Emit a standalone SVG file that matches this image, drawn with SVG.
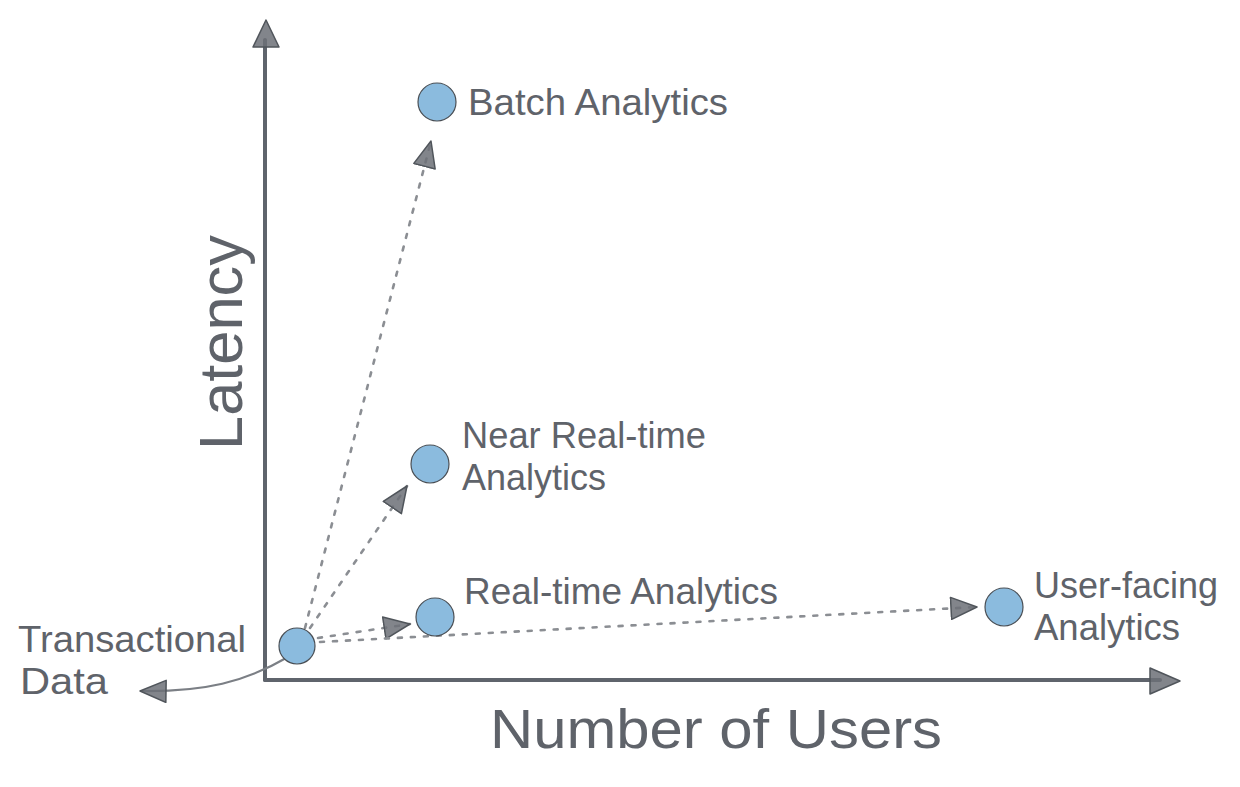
<svg xmlns="http://www.w3.org/2000/svg" width="1240" height="787" viewBox="0 0 1240 787">
<defs>
<style>
.lbl{font-family:"Liberation Sans",Arial,sans-serif;font-size:36px;fill:#5f636a}
.axis{stroke:#5f646c;stroke-width:4;fill:none;stroke-linecap:round}
.dot{stroke:#8b8e93;stroke-width:2.6;fill:none;stroke-dasharray:4 9;stroke-linecap:round}
.node circle{fill:#8bbbde;stroke:#4a4f55;stroke-width:1.2}
.ah{fill:#6c7077;fill-opacity:0.85;stroke:#50555b;stroke-width:1.5;stroke-dasharray:none;stroke-linejoin:round}
</style>
<marker id="arr" markerUnits="userSpaceOnUse" viewBox="0 0 28 24" refX="27" refY="12" markerWidth="28" markerHeight="24" orient="auto">
<path class="ah" d="M1,1 L27,12 L1,23 Z"/>
</marker>
</defs>
<rect width="1240" height="787" fill="#ffffff"/>
<g id="axes">
<line class="axis" x1="265" y1="680" x2="265" y2="40"/>
<polygon class="ah" points="266,20 253,47 279,47"/>
<line class="axis" x1="265" y1="680" x2="1160" y2="680"/>
<polygon class="ah" points="1180,681 1150,668 1150,694"/>
<text class="lbl" transform="translate(242,450) rotate(-90)" style="font-size:62px" textLength="215" lengthAdjust="spacingAndGlyphs">Latency</text>
<text class="lbl" x="490" y="748" style="font-size:56px" textLength="452" lengthAdjust="spacingAndGlyphs">Number of Users</text>
</g>
<g id="connectors">
<line class="dot" x1="305" y1="628" x2="431" y2="141" marker-end="url(#arr)"/>
<line class="dot" x1="310" y1="628" x2="407" y2="486" marker-end="url(#arr)"/>
<line class="dot" x1="318" y1="638" x2="410" y2="624" marker-end="url(#arr)"/>
<line class="dot" x1="320" y1="642" x2="977" y2="607" marker-end="url(#arr)"/>
<path d="M288,657 C245,682 205,692 140,691" stroke="#7b7f85" stroke-width="2.2" fill="none" marker-end="url(#arr)"/>
</g>
<g id="transactional" class="node">
<circle cx="297" cy="646" r="18"/>
<text class="lbl" x="18" y="652" textLength="228" lengthAdjust="spacingAndGlyphs">Transactional</text>
<text class="lbl" x="20" y="694" textLength="88" lengthAdjust="spacingAndGlyphs">Data</text>
</g>
<g id="realtime" class="node">
<circle cx="435" cy="617" r="19"/>
<text class="lbl" x="464" y="604" textLength="314" lengthAdjust="spacingAndGlyphs">Real-time Analytics</text>
</g>
<g id="nearrealtime" class="node">
<circle cx="430" cy="464" r="19"/>
<text class="lbl" x="462" y="448" textLength="244" lengthAdjust="spacingAndGlyphs">Near Real-time</text>
<text class="lbl" x="462" y="490" textLength="144" lengthAdjust="spacingAndGlyphs">Analytics</text>
</g>
<g id="batch" class="node">
<circle cx="437" cy="102" r="19"/>
<text class="lbl" x="468" y="115" textLength="260" lengthAdjust="spacingAndGlyphs">Batch Analytics</text>
</g>
<g id="userfacing" class="node">
<circle cx="1004" cy="607" r="19"/>
<text class="lbl" x="1034" y="598" textLength="184" lengthAdjust="spacingAndGlyphs">User-facing</text>
<text class="lbl" x="1034" y="640" textLength="146" lengthAdjust="spacingAndGlyphs">Analytics</text>
</g>
</svg>
